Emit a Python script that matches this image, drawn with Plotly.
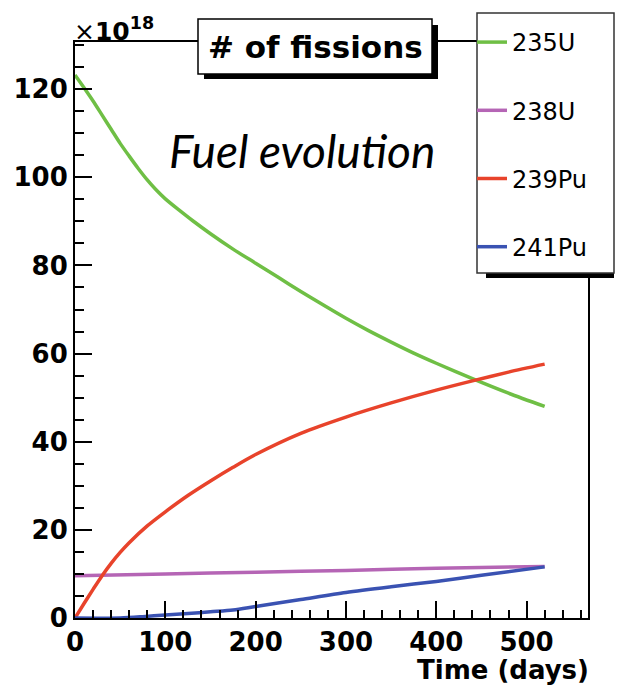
import plotly.graph_objects as go

# Number of fissions (x10^18) per isotope versus time in days
days_u235 = [0, 10, 20, 30, 40, 50, 60, 70, 80, 90, 100, 115, 130, 150, 175, 200, 225, 250, 275,
             300, 325, 350, 375, 400, 440, 480, 520]
fis_u235 = [123.2, 120.3, 117.3, 114.1, 110.9, 107.7, 104.8, 102.0, 99.4, 97.1, 95.1, 92.6, 90.2,
            87.2, 83.7, 80.5, 77.3, 74.1, 71.0, 68.0, 65.2, 62.6, 60.1, 57.8, 54.3, 51.0, 48.0]

days_u238 = [0, 100, 200, 300, 400, 520]
fis_u238 = [9.6, 10.0, 10.4, 10.8, 11.3, 11.7]

days_pu239 = [0, 10, 20, 30, 40, 50, 60, 80, 100, 125, 150, 175, 200, 250, 300, 350, 400, 440, 480, 520]
fis_pu239 = [0.0, 3.3, 6.5, 9.6, 12.4, 14.9, 17.1, 20.9, 24.1, 27.8, 31.1, 34.2, 37.1,
             41.9, 45.6, 48.8, 51.7, 53.8, 55.8, 57.6]

days_pu241 = [0, 50, 75, 100, 125, 150, 175, 200, 250, 300, 350, 400, 450, 520]
fis_pu241 = [0.0, 0.0, 0.3, 0.7, 1.0, 1.4, 1.8, 2.6, 4.2, 5.8, 7.1, 8.3, 9.7, 11.6]

series_names = ["235U", "238U", "239Pu", "241Pu"]
series_colors = ["#6fbf45", "#b565b5", "#e8432b", "#3a52b2"]

x_ticks = [0, 100, 200, 300, 400, 500]
y_ticks = [0, 20, 40, 60, 80, 100, 120]

W, H = 619, 691
L, R, T, B = 75, 31, 42, 73
PW, PH = W - L - R, H - T - B


def px(x):
    return (x - L) / PW


def py(y):
    return (H - B - y) / PH


fig = go.Figure()
series = [(days_u235, fis_u235), (days_u238, fis_u238), (days_pu239, fis_pu239), (days_pu241, fis_pu241)]
for (d, v), name, col in zip(series, series_names, series_colors):
    fig.add_trace(go.Scatter(
        x=d, y=v, mode="lines", name=name, legendgroup=name,
        line=dict(color=col, width=3.5, shape="spline", smoothing=0.8),
    ))

axis_font = dict(family="DejaVu Sans", size=26, color="black", weight="bold")

fig.update_xaxes(
    range=[0, 568], tickvals=x_ticks, ticktext=[str(v) for v in x_ticks],
    ticks="inside", ticklen=17, tickwidth=1.5, tickcolor="black",
    minor=dict(dtick=20, tick0=0, ticks="inside", ticklen=8, tickwidth=1.5, tickcolor="black"),
    showline=True, linecolor="black", linewidth=2, mirror=True,
    showgrid=False, zeroline=False, tickfont=axis_font,
)
fig.update_yaxes(
    range=[0, 130.7], tickvals=y_ticks, ticktext=[str(v) for v in y_ticks],
    ticks="inside", ticklen=17, tickwidth=1.5, tickcolor="black",
    minor=dict(dtick=5, tick0=0, ticks="inside", ticklen=9, tickwidth=1.5, tickcolor="black"),
    showline=True, linecolor="black", linewidth=2, mirror=True,
    showgrid=False, zeroline=False, tickfont=axis_font,
)

shapes = [
    # title box with drop shadow
    dict(type="rect", xref="paper", yref="paper", x0=px(204), x1=px(438), y0=py(25), y1=py(79),
         fillcolor="black", line=dict(width=0), layer="above"),
    dict(type="rect", xref="paper", yref="paper", x0=px(198), x1=px(432), y0=py(19), y1=py(74),
         fillcolor="white", line=dict(color="black", width=1.5), layer="above"),
    # legend box with drop shadow
    dict(type="rect", xref="paper", yref="paper", x0=px(486), x1=px(614), y0=py(272), y1=py(278),
         fillcolor="black", line=dict(width=0), layer="above"),
    dict(type="rect", xref="paper", yref="paper", x0=px(477), x1=px(614), y0=py(13), y1=py(273),
         fillcolor="white", line=dict(color="#333333", width=1.5), layer="above"),
]

annotations = [
    dict(text="<b># of fissions</b>", xref="paper", yref="paper", x=px(315), y=py(47),
         xanchor="center", yanchor="middle", showarrow=False,
         font=dict(family="DejaVu Sans", size=31, color="black")),
    dict(text="×<b>10<sup>18</sup></b>", xref="paper", yref="paper", x=px(72), y=py(29),
         xanchor="left", yanchor="middle", showarrow=False,
         font=dict(family="DejaVu Sans", size=25, color="black")),
    dict(text="<i>Fuel evolution</i>", xref="paper", yref="paper", x=px(302), y=py(150),
         xanchor="center", yanchor="middle", showarrow=False,
         font=dict(family="Lato", size=46, color="black")),
    dict(text="<b>Time (days)</b>", xref="paper", yref="paper", x=px(591), y=py(670),
         xanchor="right", yanchor="middle", showarrow=False,
         font=dict(family="DejaVu Sans", size=26, color="black")),
]

fig.update_layout(
    width=W, height=H, autosize=False,
    margin=dict(l=L, r=R, t=T, b=B, pad=0, autoexpand=False),
    paper_bgcolor="white", plot_bgcolor="white",
    showlegend=True,
    legend=dict(
        xref="paper", yref="paper", x=px(472), y=py(20),
        xanchor="left", yanchor="top", bgcolor="rgba(0,0,0,0)", borderwidth=0,
        font=dict(family="DejaVu Sans", size=24, color="black"),
        tracegroupgap=34, traceorder="grouped", itemwidth=30,
    ),
    shapes=shapes, annotations=annotations,
)

fig.write_html("out.html")
